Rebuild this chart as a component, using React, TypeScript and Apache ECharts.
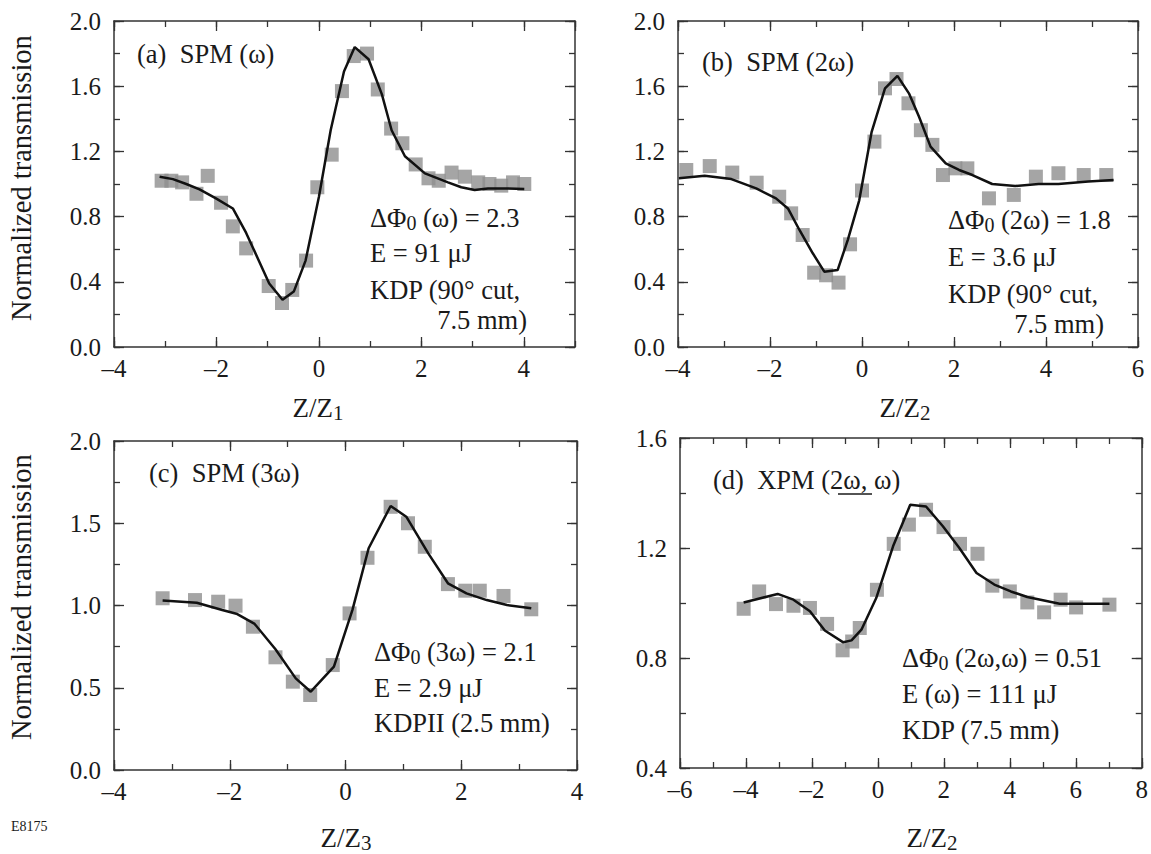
import React, { useEffect, useRef } from "react";
import * as echarts from "echarts";

// ---------- data ----------
const aPtsX = [-3.07, -2.88, -2.67, -2.39, -2.17, -1.91, -1.68, -1.42, -0.98, -0.72, -0.52, -0.25, -0.03, 0.25, 0.45, 0.68, 0.94, 1.15, 1.41, 1.63, 1.89, 2.14, 2.34, 2.59, 2.85, 3.11, 3.33, 3.56, 3.79, 4.01];
const aPtsY = [1.02, 1.02, 1.01, 0.94, 1.05, 0.885, 0.74, 0.605, 0.374, 0.27, 0.35, 0.53, 0.98, 1.18, 1.57, 1.785, 1.8, 1.58, 1.34, 1.25, 1.12, 1.035, 1.02, 1.07, 1.045, 1.01, 1.0, 0.99, 1.01, 1.0];
const aFitX = [-3.11, -2.85, -2.59, -2.33, -2.01, -1.68, -1.42, -0.97, -0.71, -0.49, -0.26, 0, 0.23, 0.49, 0.7, 0.97, 1.23, 1.42, 1.68, 2.07, 2.52, 2.78, 3.04, 3.3, 3.69, 4.01];
const aFitY = [1.045, 1.03, 1.0, 0.967, 0.912, 0.85, 0.7, 0.39, 0.29, 0.34, 0.53, 0.92, 1.33, 1.69, 1.84, 1.765, 1.55, 1.33, 1.17, 1.065, 1.01, 0.98, 0.963, 0.973, 0.973, 0.97];

const bPtsX = [-3.82, -3.31, -2.82, -2.29, -1.8, -1.54, -1.29, -1.04, -0.78, -0.51, -0.26, 0.0, 0.27, 0.5, 0.75, 1.01, 1.28, 1.53, 1.76, 2.03, 2.29, 2.76, 3.3, 3.78, 4.27, 4.82, 5.31];
const bPtsY = [1.086, 1.11, 1.07, 1.008, 0.922, 0.82, 0.687, 0.456, 0.44, 0.395, 0.63, 0.96, 1.26, 1.587, 1.644, 1.495, 1.33, 1.24, 1.055, 1.096, 1.096, 0.912, 0.933, 1.045, 1.066, 1.055, 1.055];
const bFitX = [-3.98, -3.42, -2.84, -2.3, -1.87, -1.61, -1.36, -1.07, -0.82, -0.53, -0.31, -0.06, 0.21, 0.5, 0.77, 1.02, 1.24, 1.49, 1.82, 2.11, 2.4, 2.83, 3.33, 3.84, 4.27, 4.92, 5.47];
const bFitY = [1.035, 1.05, 1.03, 0.973, 0.912, 0.85, 0.718, 0.575, 0.462, 0.472, 0.656, 0.9, 1.32, 1.587, 1.663, 1.556, 1.413, 1.229, 1.127, 1.086, 1.055, 1.0, 0.988, 1.0, 1.0, 1.015, 1.025];

const cPtsX = [-3.16, -2.6, -2.2, -1.9, -1.6, -1.21, -0.91, -0.61, -0.22, 0.07, 0.38, 0.78, 1.08, 1.37, 1.77, 2.07, 2.32, 2.73, 3.21];
const cPtsY = [1.044, 1.033, 1.023, 0.999, 0.871, 0.685, 0.537, 0.456, 0.638, 0.952, 1.29, 1.6, 1.5, 1.357, 1.13, 1.09, 1.09, 1.058, 0.977];
const cFitX = [-3.16, -2.57, -2.13, -1.87, -1.57, -1.21, -0.86, -0.6, -0.2, 0.12, 0.4, 0.78, 1.05, 1.43, 1.77, 2.09, 2.44, 2.79, 3.21];
const cFitY = [1.03, 1.017, 0.973, 0.948, 0.888, 0.734, 0.557, 0.476, 0.628, 0.973, 1.348, 1.605, 1.54, 1.317, 1.135, 1.074, 1.033, 1.003, 0.983];

const dPtsX = [-4.07, -3.6, -3.09, -2.56, -2.06, -1.54, -1.07, -0.78, -0.55, -0.03, 0.48, 0.94, 1.46, 1.99, 2.49, 3.02, 3.47, 4.0, 4.53, 5.04, 5.54, 6.01, 7.02];
const dPtsY = [0.979, 1.042, 0.996, 0.99, 0.982, 0.924, 0.828, 0.86, 0.909, 1.048, 1.215, 1.285, 1.339, 1.276, 1.215, 1.179, 1.063, 1.042, 1.002, 0.966, 1.012, 0.984, 0.994];
const dFitX = [-4.07, -3.04, -2.56, -2.06, -1.61, -1.05, -0.8, -0.5, -0.05, 0.46, 0.98, 1.46, 1.97, 2.47, 2.99, 3.53, 4.03, 4.53, 5.51, 7.02];
const dFitY = [1.002, 1.033, 1.012, 0.97, 0.9, 0.857, 0.864, 0.903, 1.018, 1.206, 1.357, 1.351, 1.279, 1.2, 1.109, 1.067, 1.042, 1.022, 0.997, 0.997];

// axis ranges: [min, max, major, minor]
const xRanges = [[-4, 5, 2, 1], [-4, 6, 2, 1], [-4, 4, 2, 1], [-6, 8, 2, 1]];
const yRanges = [[0, 2, 0.4, 0.2], [0, 2, 0.4, 0.2], [0, 2, 0.5, 0.25], [0.4, 1.6, 0.4, 0.2]];

const panelLabels = ["(a)  SPM (ω)", "(b)  SPM (2ω)", "(c)  SPM (3ω)", "(d)  XPM (2ω, ω)"];
const xTitles = ["Z/Z{s|1}", "Z/Z{s|2}", "Z/Z{s|3}", "Z/Z{s|2}"];
const yTitle = "Normalized transmission";
const notes = [
  ["ΔΦ{s|0} (ω) = 2.3", "E = 91 μJ", "KDP (90° cut,", "7.5 mm)"],
  ["ΔΦ{s|0} (2ω) = 1.8", "E = 3.6 μJ", "KDP (90° cut,", "7.5 mm)"],
  ["ΔΦ{s|0} (3ω) = 2.1", "E = 2.9 μJ", "KDPII (2.5 mm)"],
  ["ΔΦ{s|0} (2ω,ω) = 0.51", "E (ω) = 111 μJ", "KDP (7.5 mm)"],
];

const FONT = "Liberation Serif";
const INK = "#1a1a1a";
const AXIS = "#333333";

const grids = [
  { left: 114, top: 21, width: 461, height: 326 },
  { left: 678, top: 21, width: 460, height: 326 },
  { left: 114, top: 441, width: 463, height: 329 },
  { left: 680, top: 438, width: 463, height: 330 },
];

const zip = (xs: number[], ys: number[]) => xs.map((x, i) => [x, ys[i]]);
const fmtX = (v: number) => (v < 0 ? "\u2013" + Math.abs(v) : String(v));

function App() {
  const ref = useRef<HTMLDivElement>(null);
  useEffect(() => {
    if (!ref.current) return;
    const chart = echarts.init(ref.current, undefined, { renderer: "svg" });
    const xAxis: any[] = [];
    const yAxis: any[] = [];
    const series: any[] = [];
    const pts = [zip(aPtsX, aPtsY), zip(bPtsX, bPtsY), zip(cPtsX, cPtsY), zip(dPtsX, dPtsY)];
    const fits = [zip(aFitX, aFitY), zip(bFitX, bFitY), zip(cFitX, cFitY), zip(dFitX, dFitY)];
    const line = { lineStyle: { color: AXIS, width: 1.5 }, onZero: false };
    grids.forEach((g, gi) => {
      const [x0, x1, xM, xm] = xRanges[gi];
      const [y0, y1, yM, ym] = yRanges[gi];
      const xBase = xAxis.length;
      const yBase = yAxis.length;
      const mk = (pos: string, interval: number, len: number, showLine: boolean, labels: boolean, isX: boolean) => ({
        type: "value",
        gridIndex: gi,
        position: pos,
        min: isX ? x0 : y0,
        max: isX ? x1 : y1,
        interval,
        axisLine: { show: showLine, ...line },
        axisTick: { show: true, inside: true, length: len, lineStyle: { color: AXIS, width: 1.3 } },
        minorTick: { show: false },
        splitLine: { show: false },
        axisLabel: labels
          ? {
              show: true,
              fontFamily: FONT,
              fontSize: 25,
              color: INK,
              margin: isX ? 9 : 13,
              showMaxLabel: isX ? (x1 - x0) % xM === 0 : true,
              formatter: isX ? fmtX : (v: number) => v.toFixed(1),
            }
          : { show: false },
      });
      xAxis.push(mk("bottom", xM, 10, true, true, true));
      xAxis.push(mk("bottom", xm, 6, false, false, true));
      xAxis.push(mk("top", xM, 10, true, false, true));
      xAxis.push(mk("top", xm, 6, false, false, true));
      yAxis.push(mk("left", yM, 10, true, true, false));
      yAxis.push(mk("left", ym, 6, false, false, false));
      yAxis.push(mk("right", yM, 10, true, false, false));
      yAxis.push(mk("right", ym, 6, false, false, false));
      series.push({
        type: "scatter",
        xAxisIndex: xBase,
        yAxisIndex: yBase,
        symbol: "rect",
        symbolSize: 14,
        itemStyle: { color: "#8e8e8e" },
        data: pts[gi],
        z: 2,
      });
      series.push({
        type: "line",
        xAxisIndex: xBase,
        yAxisIndex: yBase,
        symbol: "none",
        lineStyle: { color: "#111", width: 2.5 },
        data: fits[gi],
        z: 3,
      });
    });

    const subRich = (size: number) => ({
      s: { fontFamily: FONT, fontSize: size, fill: INK, lineHeight: 12, verticalAlign: "bottom" },
    });
    const txt = (text: string, x: number, y: number, size: number, align = "left", extra: any = {}) => ({
      type: "text",
      x,
      y,
      z: 10,
      style: {
        text,
        fontFamily: FONT,
        fontSize: size,
        fill: INK,
        align,
        verticalAlign: "middle",
        lineHeight: 30,
        rich: subRich(Math.round(size * 0.76)),
      },
      ...extra,
    });

    const graphic: any[] = [];
    const labelPos = [[137, 54], [702, 62], [149, 473], [713, 480]];
    panelLabels.forEach((t, i) => graphic.push(txt(t, labelPos[i][0], labelPos[i][1], 26.5)));
    graphic.push({ type: "line", shape: { x1: 838, y1: 494, x2: 872, y2: 494 }, style: { stroke: INK, lineWidth: 1.3 }, z: 10 });
    const noteLeft = [370, 948, 374, 902];
    const noteYs = [[218, 253, 290], [220, 257, 294], [652, 688, 723], [658, 694, 730]];
    notes.forEach((lines, i) => {
      lines.slice(0, 3).forEach((t, j) => graphic.push(txt(t, noteLeft[i], noteYs[i][j], 26.5)));
    });
    graphic.push(txt(notes[0][3], 527, 320, 26.5, "right"));
    graphic.push(txt(notes[1][3], 1104, 324, 26.5, "right"));
    const xt = [[318, 408], [905, 408], [346, 838], [932, 838]];
    xTitles.forEach((t, i) => graphic.push(txt(t, xt[i][0], xt[i][1], 27, "center")));
    graphic.push(txt(yTitle, 21, 178, 28.5, "center", { rotation: Math.PI / 2 }));
    graphic.push(txt(yTitle, 21, 597, 28.5, "center", { rotation: Math.PI / 2 }));
    graphic.push(txt("E8175", 11, 826, 14, "left"));

    chart.setOption({
      animation: false,
      backgroundColor: "#ffffff",
      grid: grids.map((g) => ({ ...g, containLabel: false })),
      xAxis,
      yAxis,
      series,
      graphic,
    });
    return () => chart.dispose();
  }, []);
  return <div ref={ref} style={{ position: "absolute", left: 0, top: 0, width: 1151, height: 854 }} />;
}

export default App;
